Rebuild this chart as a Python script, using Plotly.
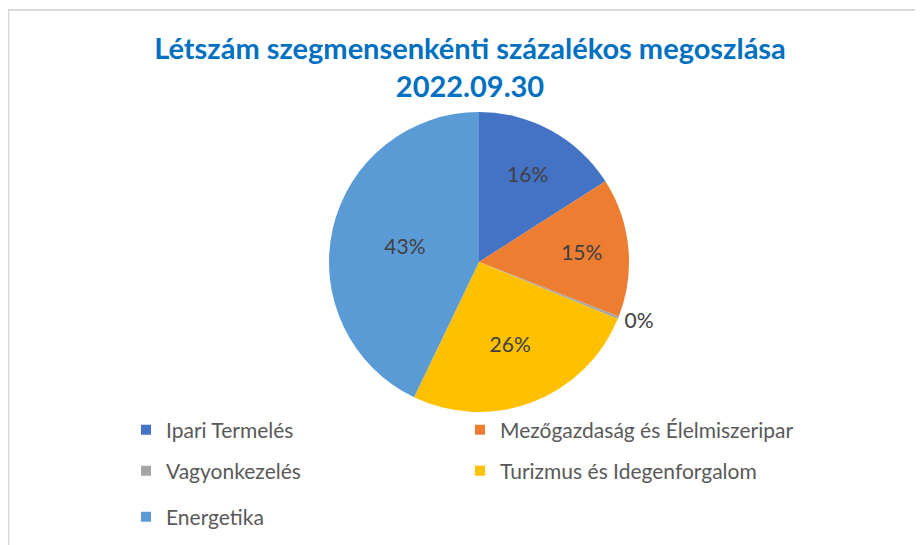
import plotly.graph_objects as go

title_line1 = "Létszám szegmensenkénti százalékos megoszlása"
title_line2 = "2022.09.30"
segments = ["Ipari Termelés", "Mezőgazdaság és Élelmiszeripar", "Vagyonkezelés",
            "Turizmus és Idegenforgalom", "Energetika"]
shares = [16, 15, 0.3, 26, 43]
colors = ["#4472C4", "#ED7D31", "#A5A5A5", "#FFC000", "#5B9BD5"]
legend_rows = ["legend", "legend", "legend2", "legend2", "legend3"]
text_pos = ["inside", "inside", "outside", "inside", "inside"]

# the page body adds an 8px margin, so the figure is 8px smaller and all positions shifted
W, H = 915, 537
FONT = "Lato"

def px(x):
    return x / W

def py(y):
    return 1 - y / H

fig = go.Figure()
fig.add_trace(go.Pie(
    labels=segments, values=shares, sort=False, direction="clockwise", rotation=0,
    marker=dict(colors=colors, line=dict(width=0)),
    texttemplate="%{percent:.0%}", textposition=text_pos, insidetextorientation="horizontal",
    textfont=dict(family=FONT, size=21, color="#404040"),
    domain=dict(x=[px(271), px(671)], y=[py(404), py(104)]),
    showlegend=False, hoverinfo="label+percent",
))

for name, col, lg in zip(segments, colors, legend_rows):
    fig.add_trace(go.Scatter(
        x=[None], y=[None], mode="markers", name=name,
        marker=dict(symbol="square", size=10, color=col),
        legend=lg, showlegend=True,
    ))

leg_common = dict(orientation="h", xanchor="left", yanchor="middle",
                  entrywidth=289, entrywidthmode="pixels", itemwidth=30,
                  font=dict(family=FONT, size=21, color="#595959"),
                  bgcolor="rgba(0,0,0,0)")
fig.update_layout(
    width=W, height=H,
    margin=dict(l=0, r=0, t=0, b=0),
    paper_bgcolor="white", plot_bgcolor="white",
    title=dict(text=f"<b>{title_line1}<br>{title_line2}</b>",
               x=px(462), xanchor="center", y=py(51), yanchor="top",
               font=dict(family=FONT, size=29, color="#0070C0")),
    xaxis=dict(visible=False), yaxis=dict(visible=False),
    legend=dict(x=px(118), y=py(422), **leg_common),
    legend2=dict(x=px(118), y=py(463), **leg_common),
    legend3=dict(x=px(118), y=py(509), **leg_common),
    shapes=[
        dict(type="line", xref="paper", yref="paper", x0=0, x1=1, y0=py(2), y1=py(2),
             line=dict(color="#D9D9D9", width=2)),
        dict(type="line", xref="paper", yref="paper", x0=px(0.5), x1=px(0.5), y0=0, y1=py(2),
             line=dict(color="#D9D9D9", width=2)),
    ],
)

fig.write_html("out.html")
